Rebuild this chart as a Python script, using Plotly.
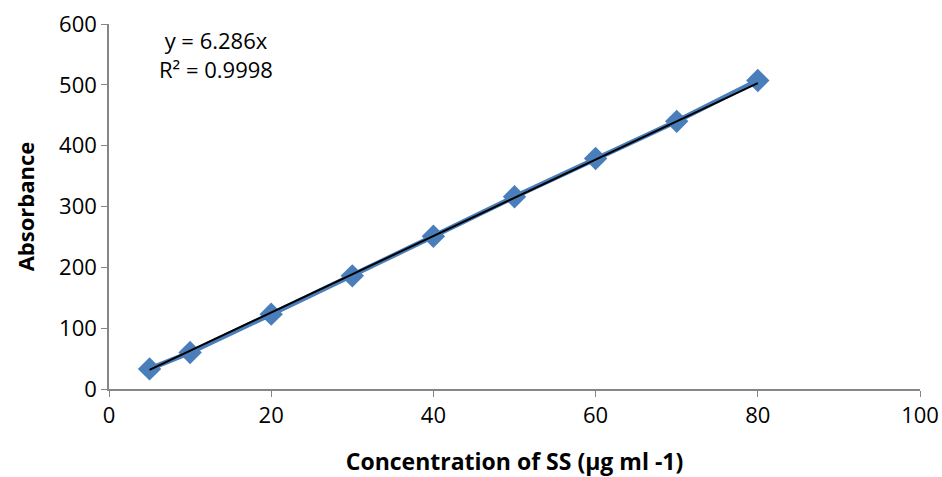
import plotly.graph_objects as go

conc = [5, 10, 20, 30, 40, 50, 60, 70, 80]
absorbance = [33, 60, 123, 186, 251, 316, 379, 440, 507]
slope = 6.286
trend_x = [5, 80]
trend_y = [slope * v for v in trend_x]

font_family = "Open Sans, Liberation Sans, sans-serif"

fig = go.Figure()
fig.add_trace(go.Scatter(
    x=conc, y=absorbance, mode="lines+markers",
    line=dict(color="#4A7EBB", width=5),
    marker=dict(symbol="diamond", size=18, color="#4A7EBB"),
    showlegend=False,
))
fig.add_trace(go.Scatter(
    x=trend_x, y=trend_y, mode="lines",
    line=dict(color="black", width=2),
    showlegend=False,
))

fig.add_annotation(
    x=(216 - 109) / 811, y=(389 - 55) / 365, xref="paper", yref="paper",
    xanchor="center", yanchor="middle",
    showarrow=False, align="center",
    text="y = 6.286x<br>R² = 0.9998",
    font=dict(family=font_family, size=22, color="black"),
)

fig.update_layout(
    width=942, height=477,
    margin=dict(l=109, r=22, t=24, b=88),
    paper_bgcolor="white", plot_bgcolor="white",
    font=dict(family=font_family, size=22, color="black"),
)
fig.update_xaxes(
    range=[0, 100], tickvals=[0, 20, 40, 60, 80, 100],
    showgrid=False, zeroline=False,
    showline=True, linecolor="#868686", linewidth=1.5,
    ticks="outside", ticklen=6, tickcolor="#868686",
    tickfont=dict(size=22), ticklabeloverflow="allow",
    automargin=False,
    title=dict(text="<b>Concentration of SS (µg ml -1)</b>", font=dict(size=23), standoff=35),
)
fig.update_yaxes(
    range=[0, 600], tickvals=[0, 100, 200, 300, 400, 500, 600],
    showgrid=False, zeroline=False,
    showline=True, linecolor="#868686", linewidth=1.5,
    ticks="outside", ticklen=6, tickcolor="#868686",
    tickfont=dict(size=22), ticklabeloverflow="allow",
    automargin=False,
    title=dict(text="<b>Absorbance</b>", font=dict(size=22), standoff=18),
)

fig.write_html(
    "out.html",
    config={"displayModeBar": False},
    post_script="document.body.style.margin='0';document.body.style.overflow='hidden';",
)
